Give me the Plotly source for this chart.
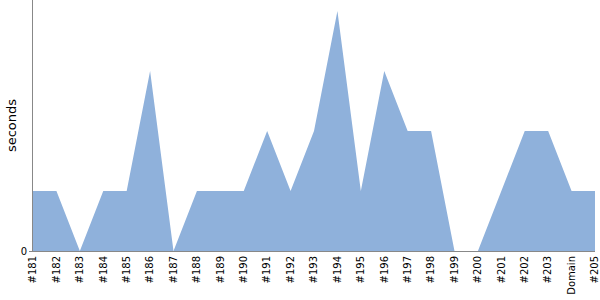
import plotly.graph_objects as go

categories = ["#181", "#182", "#183", "#184", "#185", "#186", "#187", "#188", "#189", "#190",
              "#191", "#192", "#193", "#194", "#195", "#196", "#197", "#198", "#199", "#200",
              "#201", "#202", "#203", "Domain", "#205"]
seconds = [1, 1, 0, 1, 1, 3, 0, 1, 1, 1, 2, 1, 2, 4, 1, 3, 2, 2, 0, 0, 1, 2, 2, 1, 1]

fig = go.Figure()
fig.add_trace(go.Scatter(
    x=list(range(len(categories))), y=seconds, mode="lines",
    line=dict(width=0, color="#8fb1db"), fill="tozeroy", fillcolor="#8fb1db",
    hoverinfo="skip"))

n = len(categories)
fig.update_layout(
    width=600, height=300, margin=dict(l=33, r=5, t=0, b=49),
    paper_bgcolor="white", plot_bgcolor="white", showlegend=False,
    font=dict(family="DejaVu Sans", size=10, color="black"),
    xaxis=dict(range=[-0.0005, n - 1 + 0.0005], tickmode="array",
               tickvals=list(range(n)), ticktext=categories,
               tickangle=-90, showgrid=False, zeroline=False, showline=True,
               linecolor="#888", linewidth=1, ticks="", ticklen=0, automargin=False,
               ticklabeloverflow="allow"),
    yaxis=dict(range=[0, 251 / 60], tickmode="array", tickvals=[0], ticktext=["0"],
               showgrid=False, zeroline=False, showline=True, linecolor="#888",
               linewidth=1, ticks="outside", ticklen=3, tickcolor="#888",
               automargin=False,
               title=dict(text="seconds", font=dict(size=13), standoff=1)),
)
fig.write_html("out.html")
